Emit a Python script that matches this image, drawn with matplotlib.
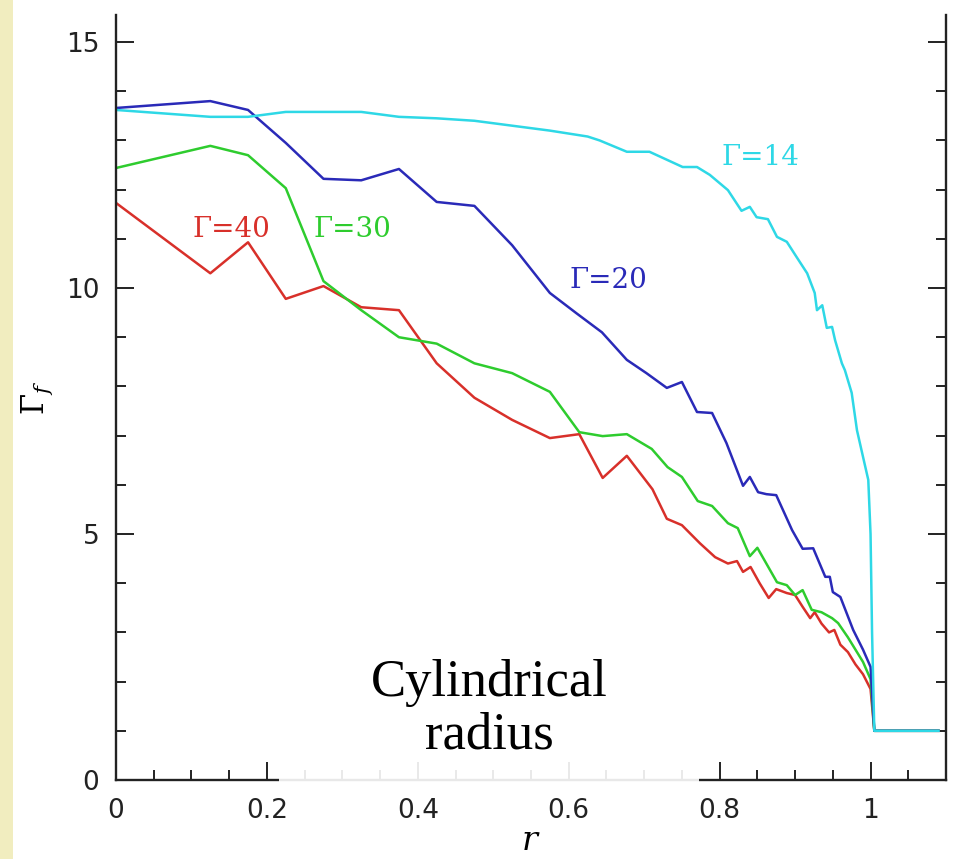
import matplotlib
matplotlib.use("Agg")
import matplotlib.pyplot as plt
from matplotlib.patches import Rectangle
from matplotlib.ticker import MultipleLocator

# Gamma_f profiles vs cylindrical radius for four Lorentz factors
r_40 = [0, 0.125, 0.175, 0.225, 0.275, 0.325, 0.375, 0.425, 0.475, 0.525, 0.575,
        0.614, 0.645, 0.677, 0.711, 0.730, 0.750, 0.774, 0.794, 0.811, 0.823, 0.831,
        0.841, 0.853, 0.865, 0.875, 0.889, 0.900, 0.910, 0.920, 0.926, 0.935, 0.945,
        0.952, 0.960, 0.970, 0.980, 0.990, 1.0, 1.005, 1.09]
g_40 = [11.73, 10.3, 10.93, 9.78, 10.04, 9.61, 9.55, 8.47, 7.77, 7.32, 6.95,
        7.03, 6.14, 6.59, 5.91, 5.31, 5.18, 4.81, 4.53, 4.40, 4.45, 4.23,
        4.33, 4.0, 3.70, 3.88, 3.80, 3.76, 3.52, 3.29, 3.41, 3.18, 3.0,
        3.05, 2.75, 2.6, 2.35, 2.15, 1.85, 1.0, 1.0]

r_30 = [0, 0.125, 0.175, 0.225, 0.275, 0.325, 0.375, 0.425, 0.475, 0.525, 0.575,
        0.614, 0.645, 0.677, 0.710, 0.731, 0.750, 0.771, 0.790, 0.811, 0.824, 0.840,
        0.850, 0.876, 0.889, 0.900, 0.910, 0.922, 0.935, 0.949, 0.957, 0.970, 0.980,
        0.990, 1.0, 1.005, 1.09]
g_30 = [12.44, 12.89, 12.70, 12.03, 10.14, 9.55, 9.0, 8.87, 8.47, 8.27, 7.89,
        7.07, 6.99, 7.03, 6.73, 6.36, 6.16, 5.67, 5.57, 5.22, 5.12, 4.55,
        4.72, 4.02, 3.96, 3.76, 3.86, 3.46, 3.41, 3.29, 3.19, 2.9, 2.65,
        2.4, 2.05, 1.0, 1.0]

r_20 = [0, 0.125, 0.175, 0.225, 0.275, 0.325, 0.375, 0.425, 0.475, 0.525, 0.575,
        0.610, 0.644, 0.677, 0.703, 0.730, 0.750, 0.770, 0.790, 0.809, 0.831, 0.840,
        0.851, 0.862, 0.875, 0.896, 0.910, 0.924, 0.940, 0.946, 0.950, 0.960, 0.977,
        0.990, 1.0, 1.005, 1.09]
g_20 = [13.66, 13.80, 13.62, 12.95, 12.22, 12.19, 12.42, 11.75, 11.67, 10.87, 9.9,
        9.49, 9.1, 8.54, 8.27, 7.97, 8.09, 7.48, 7.46, 6.85, 5.98, 6.16,
        5.85, 5.81, 5.79, 5.08, 4.70, 4.71, 4.13, 4.13, 3.82, 3.72, 3.05,
        2.65, 2.3, 1.0, 1.0]

r_14 = [0, 0.125, 0.175, 0.225, 0.275, 0.325, 0.375, 0.425, 0.475, 0.525, 0.575,
        0.625, 0.641, 0.677, 0.707, 0.751, 0.770, 0.787, 0.811, 0.829, 0.840, 0.849,
        0.864, 0.876, 0.889, 0.902, 0.916, 0.926, 0.929, 0.936, 0.942, 0.949, 0.953,
        0.962, 0.966, 0.975, 0.982, 0.990, 0.997, 1.0, 1.002, 1.005, 1.09]
g_14 = [13.62, 13.48, 13.48, 13.58, 13.58, 13.58, 13.48, 13.45, 13.4, 13.3, 13.2,
        13.08, 13.0, 12.77, 12.77, 12.46, 12.46, 12.3, 11.99, 11.57, 11.65, 11.44,
        11.40, 11.04, 10.94, 10.63, 10.3, 9.9, 9.55, 9.65, 9.19, 9.21, 8.94,
        8.47, 8.33, 7.87, 7.11, 6.57, 6.1, 5.0, 3.0, 1.0, 1.0]

labels = ["\u0393=40", "\u0393=30", "\u0393=20", "\u0393=14"]
label_pos = [(0.153, 11.18), (0.313, 11.18), (0.653, 10.16), (0.854, 12.66)]
colors = ["#d8302a", "#2ecc2e", "#2a2ab8", "#2ed8e6"]

x_ticks = [0, 0.2, 0.4, 0.6, 0.8, 1]
x_ticklabels = ["0", "0.2", "0.4", "0.6", "0.8", "1"]
y_ticks = [0, 5, 10, 15]

plt.rcParams["mathtext.fontset"] = "dejavuserif"

fig = plt.figure(figsize=(9.66, 8.59), dpi=100)
ax = fig.add_axes([116 / 966, 79 / 859, 830 / 966, 765 / 859])

series = [(r_40, g_40), (r_30, g_30), (r_20, g_20), (r_14, g_14)]
for (rr, gg), c in zip(series, colors):
    ax.plot(rr, gg, color=c, lw=1.8)

for txt, (x, y), c in zip(labels, label_pos, colors):
    ax.text(x, y, txt, color=c, fontsize=20, family="DejaVu Serif",
            ha="center", va="center")

ax.set_xlim(0, 1.1)
ax.set_ylim(0, 15.55)
ax.set_xticks(x_ticks)
ax.set_xticklabels(x_ticklabels)
ax.set_yticks(y_ticks)
ax.xaxis.set_minor_locator(MultipleLocator(0.05))
ax.yaxis.set_minor_locator(MultipleLocator(1))
ax.tick_params(which="both", direction="in", left=True, right=True, top=False,
               width=1.4, labelsize=19, colors="#222222")
ax.tick_params(which="major", length=13)
ax.tick_params(which="minor", length=7)
ax.tick_params(axis="x", pad=13)
ax.tick_params(axis="y", pad=12)
ax.spines["top"].set_visible(False)
for s in ["left", "right", "bottom"]:
    ax.spines[s].set_linewidth(1.7)
    ax.spines[s].set_color("#222222")

ax.set_xlabel("$r$", fontsize=24, labelpad=0)
ax.set_ylabel(r"$\Gamma_f$", fontsize=22, labelpad=8)

# yellow slide strip on the left
fig.patches.append(Rectangle((0, 0), 13 / 966, 1, transform=fig.transFigure,
                             facecolor="#f1edbf", edgecolor="none", zorder=0))

# white box behind the caption
fig.patches.append(Rectangle((279 / 966, 69 / 859), 420 / 966, 150 / 859,
                             transform=fig.transFigure, facecolor="white",
                             edgecolor="none", alpha=0.9, zorder=5))
fig.text(489 / 966, 1 - 709 / 859, "Cylindrical\nradius", fontsize=38,
         family="Liberation Serif", ha="center", va="center",
         linespacing=1.12, zorder=6)

fig.savefig("out.png", dpi=100)
